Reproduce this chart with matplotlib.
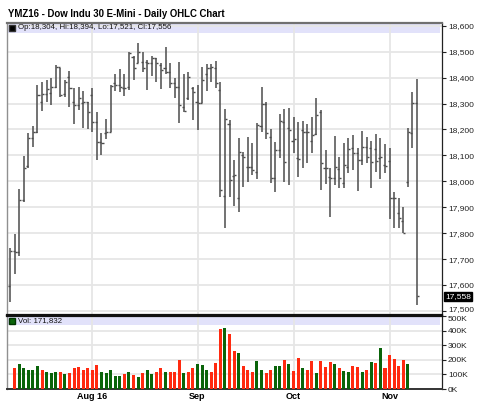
import matplotlib
matplotlib.use("Agg")
import matplotlib.pyplot as plt
from matplotlib.patches import Rectangle
from matplotlib.transforms import ScaledTranslation
import numpy as np

# ---- data ----
opens = [17598, 17731, 17729, 17928, 18060, 18166, 18192, 18307, 18335, 18340,
         18365, 18442, 18335, 18404, 18307, 18294, 18301, 18307, 18333, 18228,
         18150, 18185, 18192, 18378, 18371, 18361, 18365, 18481, 18455, 18461,
         18461, 18455, 18474, 18449, 18436, 18423, 18378, 18365, 18288, 18320,
         18359, 18307, 18301, 18416, 18436, 18436, 18352, 17945, 18220, 18022,
         17934, 18102, 18057, 18057, 18037, 18215, 18297, 18172, 18012, 18121,
         18228, 18204, 18156, 18091, 18198, 18192, 18156, 18181, 18266, 18053,
         18018, 18012, 18048, 17992, 18057, 18127, 18108, 18082, 18134, 18127,
         18125, 18091, 18063, 18078, 17937, 17877, 17845, 17999, 18185, 18304]
highs = [17742, 17796, 17970, 18099, 18185, 18215, 18371, 18384, 18391, 18397,
         18449, 18436, 18391, 18425, 18359, 18365, 18348, 18307, 18359, 18266,
         18185, 18240, 18371, 18413, 18432, 18413, 18500, 18485, 18532, 18500,
         18468, 18485, 18477, 18455, 18519, 18455, 18400, 18461, 18413, 18423,
         18365, 18371, 18442, 18451, 18451, 18464, 18382, 18279, 18237, 18082,
         18168, 18114, 18172, 18147, 18224, 18365, 18307, 18202, 18153, 18258,
         18279, 18284, 18249, 18228, 18233, 18220, 18249, 18320, 18275, 18121,
         18050, 18176, 18095, 18147, 18166, 18179, 18127, 18194, 18172, 18156,
         18181, 18168, 18143, 18127, 17960, 17934, 17902, 18207, 18346, 18394]
lows = [17536, 17641, 17710, 17922, 18050, 18134, 18185, 18271, 18307, 18294,
        18361, 18325, 18325, 18288, 18220, 18275, 18207, 18202, 18192, 18082,
        18102, 18163, 18192, 18348, 18343, 18330, 18352, 18391, 18455, 18420,
        18352, 18407, 18384, 18356, 18413, 18361, 18323, 18224, 18266, 18314,
        18237, 18198, 18301, 18348, 18384, 18361, 17941, 17821, 17941, 17906,
        17880, 17979, 17999, 18024, 18009, 18192, 18163, 17992, 17958, 18089,
        17999, 17986, 18108, 18018, 18050, 18072, 18108, 18179, 17967, 17988,
        17864, 17986, 17973, 17973, 18031, 18044, 17963, 18063, 18069, 17973,
        18035, 18009, 18031, 17855, 17821, 17819, 17800, 17979, 18127, 17521]
closes = [17731, 17726, 17928, 18050, 18166, 18192, 18333, 18336, 18356, 18365,
          18442, 18333, 18384, 18359, 18294, 18320, 18307, 18269, 18228, 18153,
          18146, 18192, 18369, 18371, 18365, 18359, 18494, 18436, 18500, 18436,
          18455, 18474, 18455, 18429, 18423, 18378, 18365, 18294, 18271, 18404,
          18346, 18301, 18391, 18436, 18442, 18378, 17967, 18240, 18005, 18024,
          18112, 18095, 18057, 18044, 18217, 18297, 18185, 18012, 18121, 18233,
          18076, 18198, 18163, 18086, 18192, 18189, 18179, 18256, 18069, 18050,
          18014, 18057, 18012, 18063, 18125, 18108, 18082, 18134, 18095, 18073,
          18078, 18095, 18060, 17937, 17934, 17860, 17800, 18189, 18301, 17556]

volume = [np.nan,
          141000, 170000, 141000, 134000, 130000, 155000, 134000, 116000, 111000, 116000,
          116000, 102000, 111000, 145000, 150000, 134000, 143000, 134000, 164000, 116000,
          109000, 130000, 89000, 89000, 102000, 116000, 93000, 84000, 111000, 134000,
          102000, 120000, 145000, 116000, 116000, 120000, 200000, 111000, 120000, 141000,
          175000, 164000, 130000, 116000, 180000, 414000, 420000, 375000, 259000, 250000,
          157000, 130000, 116000, 193000, 134000, 111000, 134000, 159000, 159000, 198000,
          170000, 125000, 214000, 141000, 134000, 193000, 111000, 193000, 148000, 189000,
          175000, 143000, 125000, 116000, 159000, 148000, 116000, 130000, 189000, 182000,
          284000, 141000, 236000, 205000, 159000, 198000, 171832, np.nan, np.nan]
vol_up = [None,
          0, 1, 1, 1, 1, 1, 0, 1, 1, 1,
          0, 1, 0, 0, 0, 0, 0, 0, 0, 1,
          1, 1, 1, 1, 0, 1, 0, 1, 0, 1,
          1, 0, 0, 1, 0, 0, 0, 1, 0, 0,
          1, 1, 1, 0, 0, 0, 1, 0, 0, 1,
          0, 0, 0, 1, 1, 0, 0, 1, 1, 0,
          1, 0, 0, 1, 0, 0, 1, 0, 0, 0,
          1, 0, 1, 1, 0, 0, 1, 0, 1, 0,
          1, 0, 0, 0, 0, 0, 1, None, None]

month_labels = ["Aug 16", "Sep", "Oct", "Nov"]
month_index = [18, 41, 62, 83]
price_ticks = [17500, 17600, 17700, 17800, 17900, 18000, 18100, 18200, 18300, 18400, 18500, 18600]
vol_ticks = [0, 100000, 200000, 300000, 400000, 500000]
last_price_label = "17,558"
title = "YMZ16 - Dow Indu 30 E-Mini - Daily OHLC Chart"

# ---- figure ----
W, H = 480, 408
fig = plt.figure(figsize=(W / 100, H / 100), dpi=100)
plt.rcParams['font.family'] = ['Liberation Sans', 'DejaVu Sans']

def px_axes(x0, y0, x1, y1):
    return fig.add_axes([x0 / W, 1 - y1 / H, (x1 - x0) / W, (y1 - y0) / H])

ax = px_axes(7.3, 22.7, 441.7, 314.8)
axv = px_axes(7.3, 316.0, 441.7, 389.0)

n = len(opens)
x = np.arange(n)
xlim = (-0.6, 94.4)
grid_c = '#e6e6e6'
bar_c = '#4c4c4c'

for a in (ax, axv):
    a.set_xlim(*xlim)
    for m in month_index:
        a.axvline(m, color=grid_c, lw=1.3, zorder=1)

# price panel
ax.set_ylim(17485, 18612)
for p in price_ticks:
    ax.axhline(p, color=grid_c, lw=1.3, zorder=1)
ax.add_patch(Rectangle((0, 1 - 10 / 292), 0.995, 10 / 292, transform=ax.transAxes,
                       facecolor='#e2e2fa', edgecolor='none', zorder=0.5))
ax.vlines(x, lows, highs, color=bar_c, lw=1.1, zorder=3)
ax.hlines(opens, x - 0.45, x, color=bar_c, lw=1.0, zorder=3)
ax.hlines(closes, x, x + 0.45, color=bar_c, lw=1.0, zorder=3)

ax.yaxis.tick_right()
ax.set_yticks(price_ticks)
ax.set_yticklabels([f"{p:,}" for p in price_ticks])
ax.tick_params(axis='y', length=3, width=0.8, pad=1.5, labelsize=6, colors='#222222')
ax.set_xticks([])
ax.spines['top'].set_color('#707070'); ax.spines['top'].set_linewidth(1.6)
ax.spines['left'].set_color('#909090'); ax.spines['left'].set_linewidth(1.0)
ax.spines['right'].set_color('#222222'); ax.spines['right'].set_linewidth(0.9)
ax.spines['bottom'].set_color('#111111'); ax.spines['bottom'].set_linewidth(1.6)
# lowest price label sits a little higher (it shares space with the volume scale)
lbl = ax.get_yticklabels()[0]
lbl.set_transform(lbl.get_transform() + ScaledTranslation(0, 2 / 100, fig.dpi_scale_trans))

ax.plot([0.011], [1 - 5 / 292], marker='s', ms=4.2, color='black', mec='#333333',
        transform=ax.transAxes, zorder=5, clip_on=False)
ax.text(0.024, 1 - 5 / 292,
        f"Op:{opens[-1]:,}, Hi:{highs[-1]:,}, Lo:{lows[-1]:,}, Cl:{closes[-1]:,}",
        transform=ax.transAxes, fontsize=5.7, va='center', ha='left', color='#111111', zorder=5)
ax.text(1.008, closes[-1], last_price_label, transform=ax.get_yaxis_transform(),
        fontsize=6, color='white', va='center', ha='left', zorder=6,
        bbox=dict(boxstyle='square,pad=0.12', facecolor='black', edgecolor='black'),
        clip_on=False)

# volume panel
vol = np.array(volume, dtype=float)
axv.set_ylim(0, 502000)
for v in vol_ticks:
    axv.axhline(v, color=grid_c, lw=1.3, zorder=1)
axv.add_patch(Rectangle((0, 1 - 9 / 73), 0.995, 9 / 73, transform=axv.transAxes,
                        facecolor='#e2e2fa', edgecolor='none', zorder=0.5))
cols = ['#0a640a' if u == 1 else '#ff2a10' for u in vol_up]
axv.bar(x, np.nan_to_num(vol), width=0.66, color=cols, zorder=3)
axv.yaxis.tick_right()
axv.set_yticks(vol_ticks)
axv.set_yticklabels([f"{int(v / 1000)}K" for v in vol_ticks])
axv.tick_params(axis='y', length=3, width=0.8, pad=1.5, labelsize=6, colors='#222222')
vl = axv.get_yticklabels()[-1]
vl.set_transform(vl.get_transform() + ScaledTranslation(0, -2 / 100, fig.dpi_scale_trans))
axv.set_xticks(month_index)
axv.set_xticklabels(month_labels, fontweight='bold', fontsize=6.5)
axv.tick_params(axis='x', length=0, pad=2)
axv.spines['top'].set_color('#111111'); axv.spines['top'].set_linewidth(1.6)
axv.spines['left'].set_color('#909090'); axv.spines['left'].set_linewidth(1.0)
axv.spines['right'].set_color('#222222'); axv.spines['right'].set_linewidth(0.9)
axv.spines['bottom'].set_color('#333333'); axv.spines['bottom'].set_linewidth(1.4)

last_vol = [v for v in volume if not np.isnan(v)][-1]
axv.plot([0.011], [1 - 4.5 / 73], marker='s', ms=4.2, color='#0a640a', mec='#003300',
         transform=axv.transAxes, zorder=5, clip_on=False)
axv.text(0.024, 1 - 4.5 / 73, f"Vol: {int(last_vol):,}", transform=axv.transAxes,
         fontsize=5.7, va='center', ha='left', color='#111111', zorder=5)

fig.text(8 / W, 1 - 14 / H, title, fontsize=6.9, fontweight='bold', va='center', ha='left')

fig.savefig("out.png", dpi=100)
